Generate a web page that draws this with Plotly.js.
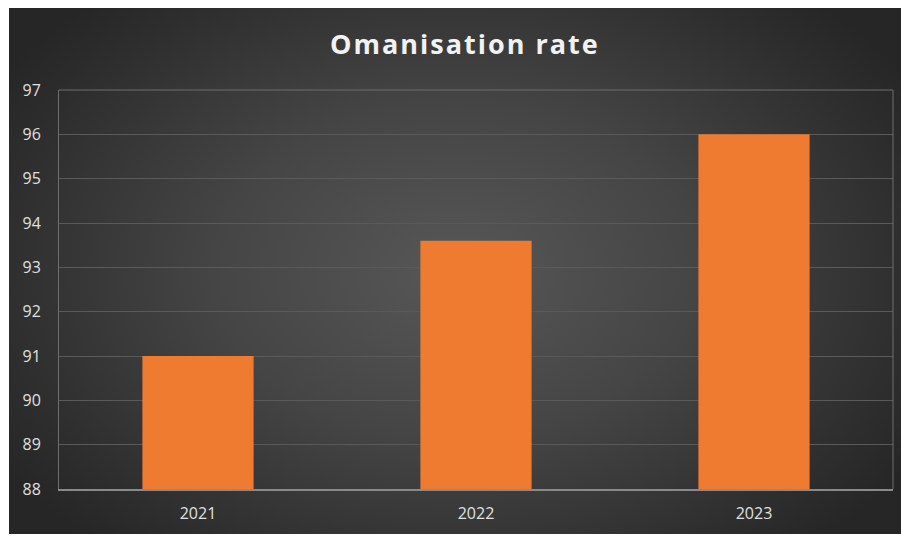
<!DOCTYPE html>
<html>
<head>
<meta charset="utf-8">
<script src="https://cdn.plot.ly/plotly-3.0.1.min.js"></script>
<style>
  html, body { margin: 0; padding: 0; background: #ffffff; width: 901px; height: 536px; overflow: hidden; }
  #chart {
    position: absolute; left: 9px; top: 8px; width: 892px; height: 526px;
    background: radial-gradient(ellipse 60% 70% at 50% 50%, #575757 0%, #454545 45%, #2e2e2e 85%, #262626 100%);
  }
  #chart .gtitle { letter-spacing: 2px; }
</style>
</head>
<body>
<div id="chart"></div>
<script>
const categories = ["2021", "2022", "2023"];
const rates = [91, 93.6, 96];
const yTicks = [88, 89, 90, 91, 92, 93, 94, 95, 96, 97];

const trace = {
  type: "bar",
  x: categories,
  y: rates,
  base: 0,
  marker: { color: "#EE7B30", line: { width: 0 } },
  hoverinfo: "x+y"
};

const layout = {
  width: 892, height: 526,
  margin: { l: 50, r: 8, t: 82, b: 45 },
  paper_bgcolor: "rgba(0,0,0,0)",
  plot_bgcolor: "rgba(0,0,0,0)",
  bargap: 0.6,
  showlegend: false,
  title: {
    text: "<b>Omanisation rate</b>",
    font: { family: "Open Sans", size: 27, color: "#f2f2f2" },
    x: 0.511, xanchor: "center", y: 0.93, yanchor: "middle"
  },
  xaxis: {
    type: "category",
    tickfont: { family: "Open Sans", size: 16, color: "#e0e0e0" },
    showgrid: false,
    showline: true, linecolor: "#8a8a8a", linewidth: 1.5, mirror: false,
    ticks: "", ticklabelstandoff: 9
  },
  yaxis: {
    range: [88, 97],
    tickvals: yTicks,
    ticktext: yTicks.map(String),
    tickfont: { family: "Open Sans", size: 16, color: "#e0e0e0" },
    showgrid: true, gridcolor: "#5a5a5a", gridwidth: 1,
    showline: true, linecolor: "#6e6e6e", linewidth: 1, mirror: false,
    zeroline: false,
    ticks: "", ticklabelstandoff: 14
  },
  shapes: [
    { type: "line", xref: "paper", yref: "paper", x0: 1, x1: 1, y0: 0, y1: 1, line: { color: "#6e6e6e", width: 1 } },
    { type: "line", xref: "paper", yref: "paper", x0: 0, x1: 1, y0: 1, y1: 1, line: { color: "#6e6e6e", width: 1 } }
  ]
};

Plotly.newPlot("chart", [trace], layout, { displayModeBar: false, staticPlot: true });
</script>
</body>
</html>
